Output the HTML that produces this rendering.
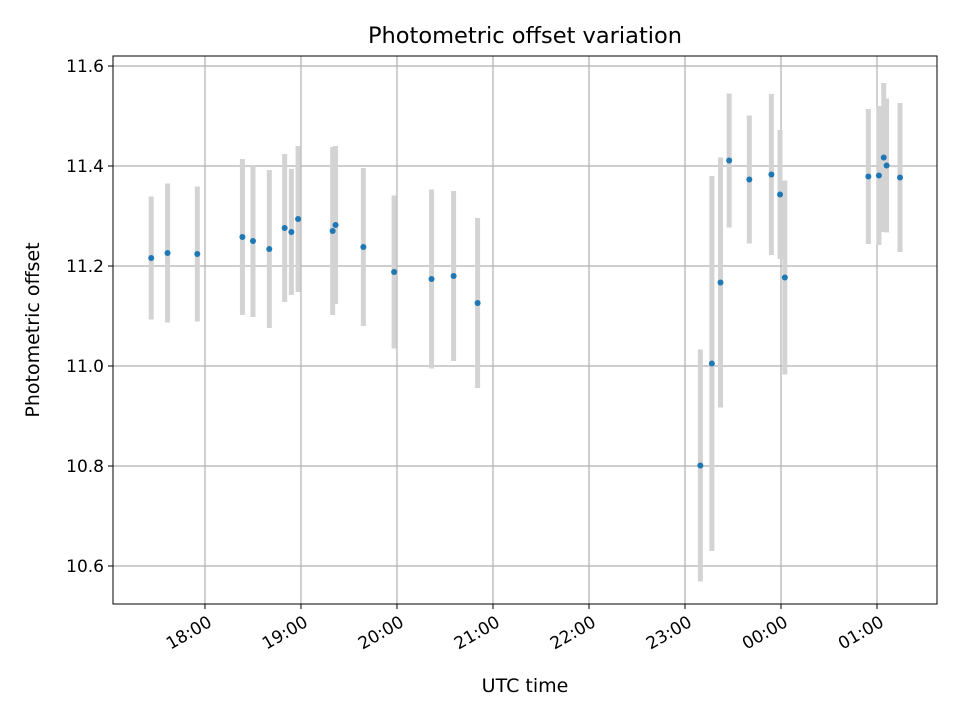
<!DOCTYPE html>
<html><head><meta charset="utf-8"><style>
body{margin:0;background:#fff}
svg{font-family:"DejaVu Sans","Liberation Sans",sans-serif}
</style></head><body>
<svg id="chart" width="960" height="720" xmlns="http://www.w3.org/2000/svg">
<rect width="960" height="720" fill="#fff"/>
<text x="525" y="43" text-anchor="middle" font-size="22.5">Photometric offset variation</text>
<text x="525" y="692" text-anchor="middle" font-size="19">UTC time</text>
<text transform="translate(39,330) rotate(-90)" text-anchor="middle" font-size="19">Photometric offset</text>
<g id="grid"></g><g id="bars"></g><g id="pts"></g><g id="axes"></g>
</svg>
<script>
// hours UTC (values >24 are after midnight)
const times=[17.44,17.61,17.92,18.39,18.50,18.67,18.83,18.90,18.97,19.33,19.36,19.65,19.97,20.36,20.59,20.84,23.16,23.28,23.37,23.46,23.67,23.90,23.99,24.04,24.91,25.02,25.07,25.10,25.24];
const offsets=[11.216,11.226,11.224,11.258,11.250,11.234,11.276,11.268,11.294,11.270,11.282,11.238,11.188,11.174,11.180,11.126,10.801,11.005,11.167,11.411,11.373,11.383,11.343,11.177,11.379,11.381,11.417,11.401,11.377];
const errors=[0.123,0.139,0.135,0.156,0.152,0.158,0.148,0.126,0.146,0.168,0.158,0.158,0.153,0.179,0.170,0.170,0.232,0.375,0.250,0.134,0.128,0.161,0.129,0.194,0.135,0.139,0.149,0.134,0.149];
const xTicks=[18,19,20,21,22,23,24,25];
const xTickLabels=["18:00","19:00","20:00","21:00","22:00","23:00","00:00","01:00"];
const yTicks=[10.6,10.8,11.0,11.2,11.4,11.6];
const yTickLabels=["10.6","10.8","11.0","11.2","11.4","11.6"];

const L=113,R=937,T=56,B=604;
const x0=17.042,x1=25.625,y0=10.524,y1=11.62;
const X=h=>L+(h-x0)/(x1-x0)*(R-L);
const Y=v=>B-(v-y0)/(y1-y0)*(B-T);
const NS="http://www.w3.org/2000/svg";
function mk(tag,attrs,parent){const e=document.createElementNS(NS,tag);for(const k in attrs)e.setAttribute(k,attrs[k]);document.getElementById(parent).appendChild(e);return e;}
xTicks.forEach((t,i)=>{
  const x=X(t);
  const g=mk('line',{x1:x,x2:x,y1:T,y2:B,stroke:'#b0b0b0','stroke-width':1.2},'grid');
  
  
  const tk=mk('line',{x1:x,x2:x,y1:B,y2:B+5,stroke:'#000','stroke-width':1},'axes');
  
  
  const ax=x+2, ay=B+11;
  const tx=mk('text',{x:ax,y:ay,'text-anchor':'end','font-size':17,transform:`rotate(-30 ${ax} ${ay})`,'dominant-baseline':'hanging'},'axes');
  tx.textContent=xTickLabels[i];
  
  
});
yTicks.forEach((t,i)=>{
  const y=Y(t);
  const g=mk('line',{x1:L,x2:R,y1:y,y2:y,stroke:'#b0b0b0','stroke-width':1.2},'grid');
  
  
  const tk=mk('line',{x1:L-5,x2:L,y1:y,y2:y,stroke:'#000','stroke-width':1},'axes');
  
  
  const tx=mk('text',{x:L-9,y:y+6,'text-anchor':'end','font-size':17},'axes');
  tx.textContent=yTickLabels[i];
  
  
});
const frame=mk('rect',{x:L,y:T,width:R-L,height:B-T,fill:'none',stroke:'#000','stroke-width':1},'axes');


times.forEach((t,i)=>{
  const x=X(t);
  const b=mk('line',{x1:x,x2:x,y1:Y(offsets[i]+errors[i]),y2:Y(offsets[i]-errors[i]),stroke:'#d3d3d3','stroke-width':5},'bars');
  
  
  const p=mk('circle',{cx:x,cy:Y(offsets[i]),r:3,fill:'#1f77b4'},'pts');
  
  
});
</script>
</body></html>
